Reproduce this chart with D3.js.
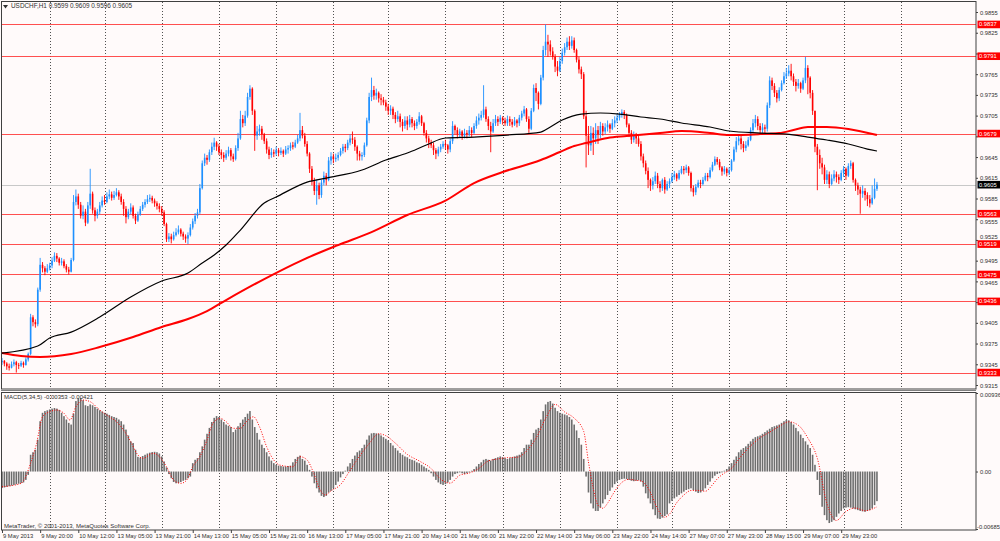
<!DOCTYPE html>
<html lang="en">
<head>
<meta charset="UTF-8">
<title>USDCHF,H1</title>
<style>
  body { margin: 0; background: #fffafa; }
  svg { display: block; font-family: "Liberation Sans", Arial, sans-serif; }
  .axis path.domain { display: none; }
  .axis line { stroke: #404040; }
  .axis text { fill: #303030; font-size: 5.8px; }
  .caption { fill: #303030; font-size: 6px; }
</style>
</head>
<body>
<svg id="chart" width="1000" height="541"></svg>
<script src="https://d3js.org/d3.v7.min.js"></script>
<script>
// ---- data (prices in pips: 9605 = 0.9605), opens follow the previous close
const headerText = "USDCHF,H1 0.9599 0.9609 0.9596 0.9605";
const macdText = "MACD(5,34,5) -0.00353 -0.00421";
const firstOpen = 9348;

const closes = [
  9350,9346,9342,9340,9345,9348,9344,9343,9347,9344,
  9352,9360,9413,9406,9403,9453,9489,9484,9479,9484,
  9488,9495,9502,9498,9492,9494,9487,9482,9479,9496,
  9580,9588,9576,9560,9566,9550,9575,9592,9568,9560,
  9566,9575,9582,9580,9588,9591,9586,9590,9594,9588,
  9580,9570,9558,9566,9572,9560,9553,9562,9570,9576,
  9580,9584,9586,9582,9578,9574,9570,9565,9548,9526,
  9530,9526,9532,9536,9540,9534,9530,9527,9532,9543,
  9552,9560,9565,9600,9636,9644,9641,9652,9660,9666,
  9660,9652,9648,9644,9650,9655,9646,9642,9658,9672,
  9700,9694,9705,9732,9744,9712,9676,9682,9686,9678,
  9668,9656,9648,9652,9650,9655,9651,9654,9650,9656,
  9658,9662,9660,9666,9672,9684,9676,9664,9650,9628,
  9610,9596,9604,9590,9608,9618,9612,9640,9646,9642,
  9644,9648,9654,9660,9658,9666,9672,9670,9660,9650,
  9646,9648,9662,9698,9732,9742,9734,9738,9730,9728,
  9724,9718,9712,9715,9706,9700,9704,9696,9690,9698,
  9692,9700,9694,9690,9696,9704,9694,9680,9672,9666,
  9662,9655,9650,9656,9660,9664,9662,9656,9668,9690,
  9684,9678,9682,9676,9680,9678,9684,9680,9690,9698,
  9702,9706,9714,9700,9690,9682,9694,9700,9696,9702,
  9698,9694,9700,9696,9692,9698,9694,9702,9708,9714,
  9700,9686,9712,9745,9738,9722,9760,9800,9812,9808,
  9798,9790,9776,9770,9784,9796,9804,9812,9806,9814,
  9800,9786,9772,9765,9704,9676,9662,9680,9672,9684,
  9678,9690,9682,9688,9692,9686,9694,9698,9702,9706,
  9710,9706,9692,9680,9670,9676,9672,9664,9646,9636,
  9625,9612,9604,9610,9618,9606,9600,9612,9598,9606,
  9610,9616,9620,9614,9622,9628,9626,9630,9622,9600,
  9594,9602,9608,9606,9612,9618,9616,9626,9634,9642,
  9638,9630,9624,9628,9622,9626,9640,9656,9668,9672,
  9664,9658,9662,9670,9684,9694,9700,9690,9684,9688,
  9686,9720,9756,9748,9738,9730,9742,9752,9762,9766,
  9770,9762,9754,9748,9752,9744,9756,9774,9760,9738,
  9712,9660,9648,9636,9630,9612,9620,9606,9614,9620,
  9616,9612,9622,9628,9618,9632,9636,9612,9604,9598,
  9592,9596,9590,9584,9578,9586,9599,9605
];

const highs = [
  9354,9351,9348,9346,9349,9352,9350,9347,9350,9349,
  9355,9362,9418,9416,9410,9456,9499,9493,9487,9490,
  9492,9500,9507,9506,9500,9499,9497,9490,9486,9499,
  9590,9598,9592,9580,9575,9570,9580,9628,9595,9572,
  9570,9580,9588,9590,9594,9598,9595,9596,9600,9597,
  9592,9584,9574,9570,9578,9575,9563,9566,9574,9580,
  9584,9590,9591,9589,9585,9581,9578,9574,9568,9550,
  9535,9534,9537,9542,9546,9542,9537,9533,9536,9548,
  9556,9564,9570,9606,9640,9650,9648,9656,9666,9673,
  9668,9664,9656,9652,9655,9660,9658,9650,9662,9680,
  9712,9706,9712,9738,9749,9746,9714,9690,9692,9690,
  9680,9672,9660,9658,9656,9660,9658,9659,9656,9661,
  9662,9666,9667,9670,9677,9709,9690,9680,9668,9652,
  9632,9615,9612,9608,9612,9624,9622,9645,9652,9650,
  9650,9652,9658,9664,9664,9670,9678,9682,9674,9662,
  9654,9652,9666,9702,9738,9760,9748,9744,9740,9736,
  9732,9728,9722,9720,9718,9710,9712,9708,9700,9704,
  9704,9706,9703,9698,9700,9710,9706,9696,9684,9676,
  9670,9666,9658,9660,9664,9668,9670,9664,9672,9697,
  9692,9688,9686,9684,9686,9684,9690,9688,9694,9704,
  9708,9712,9749,9718,9704,9696,9700,9706,9704,9706,
  9704,9702,9705,9704,9700,9703,9700,9706,9712,9719,
  9716,9704,9716,9750,9752,9740,9764,9806,9837,9822,
  9814,9804,9794,9784,9790,9802,9810,9818,9820,9820,
  9818,9802,9790,9776,9768,9712,9690,9690,9688,9694,
  9690,9696,9694,9694,9698,9694,9700,9704,9708,9710,
  9714,9713,9708,9694,9684,9682,9680,9676,9668,9650,
  9640,9630,9614,9616,9624,9622,9610,9614,9616,9610,
  9614,9622,9625,9622,9626,9632,9632,9634,9632,9624,
  9604,9606,9612,9612,9616,9622,9622,9630,9638,9646,
  9645,9642,9632,9632,9630,9630,9642,9660,9674,9678,
  9676,9668,9668,9674,9688,9700,9706,9704,9694,9694,
  9692,9724,9762,9760,9752,9742,9746,9756,9768,9774,
  9778,9780,9766,9758,9758,9754,9760,9790,9778,9762,
  9742,9712,9664,9656,9644,9634,9626,9624,9620,9626,
  9624,9620,9626,9632,9630,9636,9640,9638,9614,9608,
  9602,9604,9600,9594,9590,9604,9614,9609
];

const lows = [
  9344,9342,9337,9336,9339,9342,9333,9338,9341,9340,
  9343,9349,9358,9400,9398,9400,9450,9478,9474,9477,
  9481,9484,9493,9493,9488,9488,9484,9478,9475,9478,
  9494,9575,9570,9556,9555,9545,9548,9570,9563,9552,
  9556,9562,9572,9576,9578,9584,9582,9583,9588,9583,
  9576,9560,9549,9555,9562,9556,9548,9551,9560,9567,
  9572,9577,9580,9578,9573,9569,9565,9560,9545,9522,
  9522,9520,9524,9530,9533,9530,9525,9521,9519,9530,
  9540,9548,9556,9562,9598,9632,9634,9638,9648,9655,
  9654,9648,9642,9638,9641,9646,9640,9638,9640,9654,
  9670,9688,9690,9702,9728,9706,9654,9670,9676,9670,
  9664,9650,9642,9644,9645,9647,9646,9648,9645,9648,
  9650,9654,9656,9658,9664,9668,9672,9660,9646,9622,
  9604,9590,9576,9584,9586,9604,9604,9610,9634,9636,
  9638,9640,9646,9650,9652,9655,9662,9664,9654,9640,
  9640,9640,9645,9660,9694,9726,9728,9728,9724,9720,
  9720,9712,9706,9706,9700,9694,9696,9688,9682,9686,
  9684,9688,9688,9684,9686,9692,9690,9676,9666,9658,
  9658,9648,9642,9646,9652,9657,9656,9650,9652,9664,
  9678,9672,9674,9670,9672,9672,9675,9674,9678,9686,
  9692,9698,9702,9696,9684,9652,9680,9690,9690,9693,
  9692,9690,9690,9690,9688,9690,9688,9690,9698,9704,
  9696,9680,9684,9710,9726,9714,9720,9756,9792,9790,
  9792,9786,9768,9762,9768,9780,9792,9800,9800,9802,
  9796,9782,9766,9758,9700,9630,9648,9654,9648,9664,
  9664,9672,9676,9678,9682,9680,9684,9688,9694,9698,
  9702,9700,9688,9674,9664,9666,9664,9660,9640,9630,
  9620,9600,9596,9598,9606,9600,9594,9596,9592,9596,
  9600,9608,9612,9610,9612,9620,9620,9622,9618,9595,
  9588,9590,9600,9600,9604,9610,9610,9614,9624,9632,
  9634,9626,9618,9620,9617,9619,9624,9638,9652,9662,
  9656,9652,9654,9660,9668,9680,9688,9684,9678,9680,
  9678,9682,9716,9742,9732,9724,9726,9740,9750,9758,
  9762,9756,9748,9740,9744,9738,9742,9752,9736,9730,
  9706,9652,9597,9628,9620,9606,9606,9600,9604,9610,
  9608,9606,9610,9616,9612,9616,9628,9608,9596,9590,
  9563,9586,9582,9574,9572,9576,9584,9596
];

// moving averages: [bar, price]
const maFast = [
  [0,0.93612],[15,0.93714],[20,0.9383],[29,0.93916],[41,0.94134],[54,0.94423],
  [67,0.94655],[78,0.94771],[84,0.94916],[89,0.95031],[94,0.95176],[100,0.95393],
  [110,0.95784],[115,0.95871],[128,0.96088],[136,0.96146],[151,0.96262],[161,0.96407],
  [170,0.96508],[178,0.96624],[186,0.96726],[198,0.9674],[212,0.96769],[226,0.96812],
  [230,0.96885],[235,0.96986],[243,0.97073],[251,0.97088],[259,0.97073],[268,0.9703],
  [276,0.97001],[285,0.96943],[297,0.96885],[305,0.96827],[318,0.96798],[329,0.96783],
  [338,0.9674],[346,0.96697],[355,0.96639],[363,0.96566],[367,0.96537]
];
const maSlow = [
  [0,0.93612],[8,0.93569],[16,0.93554],[29,0.93598],[41,0.93699],[55,0.93844],
  [67,0.93989],[78,0.94105],[86,0.9422],[94,0.9438],[110,0.94684],[126,0.94959],
  [141,0.95176],[155,0.95364],[170,0.95611],[186,0.9582],[198,0.96074],[210,0.96233],
  [226,0.96407],[234,0.96523],[240,0.9661],[245,0.96653],[254,0.96726],[262,0.96754],
  [276,0.96798],[285,0.96827],[297,0.96798],[305,0.96769],[318,0.96783],[326,0.96798],
  [332,0.96841],[338,0.96885],[346,0.96885],[355,0.96856],[367,0.96769]
];

// MACD histogram, units of 0.00001
const macdHist = [
  -197,-190,-182,-175,-168,-160,-152,-145,-138,-130,
  -100,-40,200,230,260,380,600,700,720,730,
  740,750,757,750,735,700,660,620,580,560,
  690,840,870,876,850,790,780,800,790,770,
  750,730,715,700,690,675,660,650,640,620,
  600,560,500,430,360,340,260,175,165,185,
  200,215,225,232,235,230,215,180,120,50,
  -30,-80,-125,-140,-137,-125,-110,-100,-80,-60,
  100,140,160,230,300,380,450,520,590,640,
  661,650,620,590,560,545,530,470,500,540,
  580,620,650,690,721,620,530,460,380,320,
  280,230,180,130,100,80,70,65,60,60,
  65,70,110,150,175,190,150,130,80,20,
  -60,-140,-200,-250,-290,-304,-290,-250,-230,-200,
  -160,-120,-70,-30,10,60,100,150,190,230,
  250,280,320,380,430,455,460,455,450,430,
  410,390,370,340,310,280,250,220,200,180,
  170,150,140,130,110,100,80,60,40,20,
  -20,-60,-100,-130,-150,-160,-150,-130,-100,-60,
  -30,-20,-10,-20,-30,-20,-10,10,30,60,
  90,110,140,150,140,130,150,160,170,180,
  170,160,150,160,170,180,190,200,230,280,
  320,320,380,460,500,520,620,720,800,830,
  840,810,760,720,700,690,680,670,650,620,
  560,490,400,320,150,-60,-250,-380,-440,-470,
  -470,-430,-380,-330,-280,-230,-190,-150,-120,-100,
  -90,-85,-90,-100,-110,-115,-110,-105,-120,-180,
  -260,-320,-380,-450,-520,-560,-566,-550,-530,-510,
  -380,-350,-320,-300,-280,-260,-240,-220,-210,-200,
  -220,-240,-256,-250,-230,-200,-160,-120,-80,-50,
  -30,-20,-10,10,30,60,100,140,180,230,
  260,280,300,330,360,390,410,420,430,450,
  470,490,510,530,540,550,560,580,600,614,
  610,590,560,520,480,440,400,360,320,280,
  200,80,-100,-280,-420,-520,-580,-614,-600,-580,
  -540,-500,-470,-440,-430,-425,-430,-440,-450,-460,
  -470,-475,-480,-470,-460,-440,-400,-353
];

// MACD signal line, [bar, value in 0.00001]
const macdSignal = [
  [0,-181],[8,-141],[12,98],[14.5,336],[17,653],[20,713],[23,733],[26,694],[28.5,614],
  [31,772],[34,852],[37,832],[41,733],[45,653],[48,594],[51,495],[54,355],[56.5,217],
  [59,157],[63.5,217],[66,177],[69,57],[72,-101],[75,-141],[77.5,-101],[80,57],[83,177],
  [86,375],[88.5,574],[91.5,634],[94,594],[97,515],[100,515],[102.5,594],[105.5,653],
  [108,534],[111,296],[114,137],[116.5,77],[122,57],[125,177],[128,137],[130.5,-2],
  [133.5,-221],[135.5,-280],[138,-230],[142,-156],[146,14],[150,184],[154,332],[158,450],
  [161,427],[165,338],[170,204],[175,126],[180,36],[184,-92],[188,-138],[192,-44],
  [196,-18],[200,36],[204,126],[208,150],[212,166],[216,170],[220,244],[224,396],
  [228,632],[232,800],[236,710],[240,636],[244,478],[246,112],[248,-200],[250,-402],
  [252,-438],[254,-378],[256,-282],[258,-194],[260,-130],[263,-93],[266,-105],[268,-112],
  [270,-155],[272,-252],[274,-386],[276,-495],[278,-545],[280,-507],[283,-372],[286,-280],
  [289,-226],[292,-225],[295,-235],[298,-158],[300,-88],[302,-38],[306,38],[310,182],
  [314,306],[318,402],[322,470],[326,538],[330,593],[334,552],[338,400],[342,156],
  [346,-380],[350,-583],[354,-476],[358,-435],[362,-467],[367,-421]
];

const levels = [0.9837, 0.9791, 0.9679, 0.9563, 0.9519, 0.9475, 0.9436, 0.9333];
const bid = 0.9605;
const priceTicks = [0.9855,0.9825,0.9795,0.9765,0.9735,0.9705,0.9675,0.9645,0.9615,
  0.9585,0.9555,0.9525,0.9495,0.9465,0.9435,0.9405,0.9375,0.9345,0.9315];
const macdTicks = [0.00936, 0, -0.00685];
const macdTickLabels = ["0.00936", "0.00", "-0.00685"];
const timeLabels = ["9 May 2013","9 May 20:00","10 May 12:00","13 May 05:00","13 May 21:00",
  "14 May 13:00","15 May 05:00","15 May 21:00","16 May 13:00","17 May 05:00","17 May 21:00",
  "20 May 14:00","21 May 06:00","21 May 22:00","22 May 14:00","23 May 06:00","23 May 22:00",
  "24 May 14:00","27 May 07:00","27 May 23:00","28 May 15:00","29 May 07:00","29 May 23:00"];
const timeLabelBars = timeLabels.map((d, i) => i * 16);
const dayStarts = [20,43,67,91,115,139,162,186,210,234,258,281,305,329,353,377];

// ---- layout
const left = 1, right = 976;
const mainTop = 2, mainBottom = 389, macdTop = 392, macdBottom = 530;
const bullColor = "#1e90ff", bearColor = "#ff0000";

const svg = d3.select("#chart");
svg.append("rect").attr("width", 1000).attr("height", 541).attr("fill", "#fffafa");

const x = d3.scaleLinear().domain([0, 408]).range([2, 974.7]);
const y = d3.scaleLinear().domain([0.93092, 0.98695]).range([mainBottom, mainTop]);
const ym = d3.scaleLinear().domain([-0.00685, 0.00936]).range([529, 393]);

const defs = svg.append("defs");
defs.append("clipPath").attr("id", "clipMain").append("rect")
  .attr("x", left).attr("y", mainTop).attr("width", right - left).attr("height", mainBottom - mainTop);
defs.append("clipPath").attr("id", "clipMacd").append("rect")
  .attr("x", left).attr("y", macdTop).attr("width", right - left).attr("height", macdBottom - macdTop);

// day separators
[[mainTop, mainBottom], [macdTop, macdBottom]].forEach(([t, b]) => {
  svg.append("g").selectAll("line").data(dayStarts).join("line")
    .attr("x1", d => Math.round(x(d)) + 0.5).attr("x2", d => Math.round(x(d)) + 0.5)
    .attr("y1", t).attr("y2", b)
    .attr("stroke", "#505050").attr("stroke-width", 1).attr("stroke-dasharray", "1,2");
});

const main = svg.append("g").attr("clip-path", "url(#clipMain)");

// horizontal levels
main.append("line")
  .attr("x1", left).attr("x2", right)
  .attr("y1", Math.round(y(bid)) + 0.5).attr("y2", Math.round(y(bid)) + 0.5)
  .attr("stroke", "#c8c8c8");
main.selectAll(".level").data(levels).join("line")
  .attr("class", "level")
  .attr("x1", left).attr("x2", right)
  .attr("y1", d => Math.round(y(d)) + 0.5).attr("y2", d => Math.round(y(d)) + 0.5)
  .attr("stroke", "#ff3030").attr("stroke-opacity", 0.85);

// candles
const candles = closes.map((c, i) => ({
  i,
  o: (i === 0 ? firstOpen : closes[i - 1]) / 1e4,
  h: highs[i] / 1e4,
  l: lows[i] / 1e4,
  c: c / 1e4
}));
const colorOf = d => d.c >= d.o ? bullColor : bearColor;

main.append("g").selectAll("line").data(candles).join("line")
  .attr("x1", d => x(d.i)).attr("x2", d => x(d.i))
  .attr("y1", d => y(d.h)).attr("y2", d => y(d.l))
  .attr("stroke", colorOf).attr("stroke-width", 0.9);
main.append("g").selectAll("rect").data(candles).join("rect")
  .attr("x", d => x(d.i) - 0.8).attr("width", 1.6)
  .attr("y", d => y(Math.max(d.o, d.c)))
  .attr("height", d => Math.max(0.8, Math.abs(y(d.o) - y(d.c))))
  .attr("fill", colorOf);

// moving averages
const maLine = d3.line().x(d => x(d[0])).y(d => y(d[1])).curve(d3.curveMonotoneX);
main.append("path").attr("d", maLine(maSlow))
  .attr("fill", "none").attr("stroke", "#ff0000").attr("stroke-width", 2);
main.append("path").attr("d", maLine(maFast))
  .attr("fill", "none").attr("stroke", "#000000").attr("stroke-width", 1.2);

// MACD panel
const macd = svg.append("g").attr("clip-path", "url(#clipMacd)");
macd.append("g").selectAll("rect").data(macdHist).join("rect")
  .attr("x", (d, i) => x(i) - 0.8).attr("width", 1.6)
  .attr("y", d => Math.min(ym(d / 1e5), ym(0)))
  .attr("height", d => Math.abs(ym(d / 1e5) - ym(0)))
  .attr("fill", "#6e6e6e");
const sigLine = d3.line().x(d => x(d[0])).y(d => ym(d[1] / 1e5)).curve(d3.curveMonotoneX);
macd.append("path").attr("d", sigLine(macdSignal))
  .attr("fill", "none").attr("stroke", "#ff0000").attr("stroke-width", 1)
  .attr("stroke-dasharray", "1,1.6");

// frames
const frame = svg.append("g").attr("fill", "none").attr("stroke", "#404040");
frame.append("rect").attr("x", left + 0.5).attr("y", mainTop - 0.5)
  .attr("width", right - left - 0.5).attr("height", mainBottom - mainTop + 0.5);
frame.append("rect").attr("x", left + 0.5).attr("y", macdTop + 0.5)
  .attr("width", right - left - 0.5).attr("height", macdBottom - macdTop - 0.5);
svg.append("line").attr("x1", left).attr("x2", right).attr("y1", 390.5).attr("y2", 390.5)
  .attr("stroke", "#808080");

// price axis; labels that sit under a level tag are covered, as in the terminal
const tagValues = levels.concat([bid]);
const priceAxis = svg.append("g").attr("class", "axis")
  .attr("transform", `translate(${right},0)`)
  .call(d3.axisRight(y).tickValues(priceTicks).tickFormat(d3.format(".4f")).tickSize(2).tickPadding(2));
priceAxis.selectAll(".tick").each(function(d) {
  const gap = d3.min(tagValues, v => Math.abs(y(v) - y(d)));
  const t = d3.select(this).select("text").attr("dy", "0.35em");
  if (gap < 3.5) t.remove();
  else if (gap < 7.5) {
    const above = tagValues.some(v => Math.abs(y(v) - y(d)) === gap && y(v) > y(d));
    t.attr("y", above ? -(7.5 - gap) : (7.5 - gap));
  }
});

// level labels
const tags = svg.append("g");
const tagData = levels.map(v => ({ v, fill: "#ff0000" })).concat([{ v: bid, fill: "#000000" }]);
tags.selectAll("rect").data(tagData).join("rect")
  .attr("x", right + 1.5).attr("width", 22.5)
  .attr("y", d => y(d.v) - 3.8).attr("height", 7.6)
  .attr("fill", d => d.fill);
tags.selectAll("text").data(tagData).join("text")
  .attr("x", right + 3).attr("y", d => y(d.v)).attr("dy", "0.35em")
  .attr("fill", "#ffffff").style("font-size", "5.8px")
  .text(d => d3.format(".4f")(d.v));

// MACD axis
const macdAxis = svg.append("g").attr("class", "axis")
  .attr("transform", `translate(${right},0)`)
  .call(d3.axisRight(ym).tickValues(macdTicks).tickFormat((d, i) => macdTickLabels[i]).tickSize(2).tickPadding(2));
macdAxis.selectAll("text").attr("dy", (d, i) => i === 0 ? "0.6em" : (i === 2 ? "-0.05em" : "0.35em"));
macdAxis.selectAll(".tick").filter((d, i) => i === 2).select("text").attr("x", 1);

// time axis
const timeAxis = svg.append("g").attr("class", "axis")
  .attr("transform", `translate(0,${macdBottom})`)
  .call(d3.axisBottom(x).tickValues(timeLabelBars).tickFormat((d, i) => timeLabels[i]).tickSize(3));
timeAxis.selectAll("text").attr("text-anchor", "start").attr("x", 0.5).attr("y", 4);

// captions
svg.append("path").attr("d", "M3,5 L8,5 L5.5,8.5 Z").attr("fill", "#303030");
svg.append("text").attr("class", "caption").attr("x", 11).attr("y", 8.2)
  .style("font-size", "6.4px").text(headerText);
svg.append("text").attr("class", "caption").attr("x", 4).attr("y", 398.5).text(macdText);
svg.append("text").attr("class", "caption").attr("x", 4).attr("y", 527.5)
  .text("MetaTrader, \u00a9 2001-2013, MetaQuotes Software Corp.");
</script>
</body>
</html>
